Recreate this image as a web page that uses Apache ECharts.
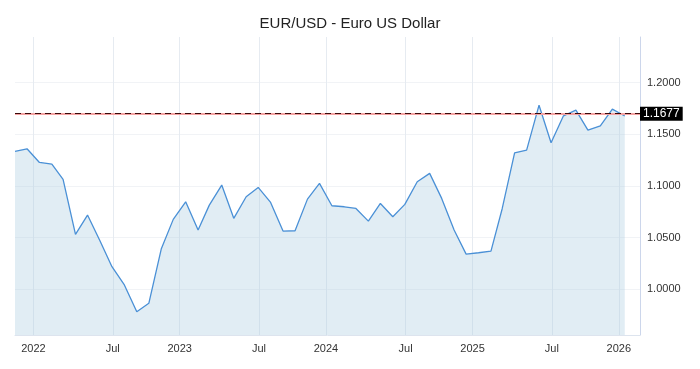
<!DOCTYPE html>
<html>
<head>
<meta charset="utf-8">
<script src="https://cdn.jsdelivr.net/npm/echarts@6/dist/echarts.min.js"></script>
<style>
html,body{margin:0;padding:0;background:#fff;}
#chart{width:700px;height:369px;}
</style>
</head>
<body>
<div id="chart"></div>
<script>
const titleText = 'EUR/USD - Euro US Dollar';
const dates = [
  '2021-11-16','2021-12-16',
  '2022-01-16','2022-02-16','2022-03-16','2022-04-16','2022-05-16','2022-06-16','2022-07-16','2022-08-16','2022-09-16','2022-10-16','2022-11-16','2022-12-16',
  '2023-01-16','2023-02-16','2023-03-16','2023-04-16','2023-05-16','2023-06-16','2023-07-16','2023-08-16','2023-09-16','2023-10-16','2023-11-16','2023-12-16',
  '2024-01-16','2024-02-16','2024-03-16','2024-04-16','2024-05-16','2024-06-16','2024-07-16','2024-08-16','2024-09-16','2024-10-16','2024-11-16','2024-12-16',
  '2025-01-16','2025-02-16','2025-03-16','2025-04-16','2025-05-16','2025-06-16','2025-07-16','2025-08-16','2025-09-16','2025-10-16','2025-11-16','2025-12-16',
  '2026-01-16'
];
const rates = [
  1.1335, 1.1360,
  1.1228, 1.1212, 1.1064, 1.0532, 1.0719, 1.0470, 1.0219, 1.0042, 0.9783, 0.9865, 1.0390, 1.0677,
  1.0847, 1.0574, 1.0815, 1.1009, 1.0687, 1.0896, 1.0986, 1.0841, 1.0564, 1.0567, 1.0873, 1.1025,
  1.0809, 1.0799, 1.0783, 1.0660, 1.0831, 1.0702, 1.0822, 1.1041, 1.1122, 1.0880, 1.0574, 1.0341,
  1.0354, 1.0370, 1.0780, 1.1321, 1.1347, 1.1782, 1.1418, 1.1679, 1.1734, 1.1541, 1.1582, 1.1744,
  1.1677
];
const lastValue = 1.1677;
const tickDates = ['2022-01-01','2022-07-18','2023-01-01','2023-07-18','2024-01-01','2024-07-18','2025-01-01','2025-07-18','2026-01-01'];
const tickLabels = ['2022','Jul','2023','Jul','2024','Jul','2025','Jul','2026'];
const xMin = '2021-11-16';
const xMax = '2026-02-23';
const yMin = 0.9558;
const yMax = 1.2442;

const font = 'Liberation Sans, Arial, sans-serif';
const toTime = s => Date.UTC(+s.slice(0, 4), +s.slice(5, 7) - 1, +s.slice(8, 10));
const tickTimes = tickDates.map(toTime);
const chart = echarts.init(document.getElementById('chart'), null, {renderer: 'canvas'});
chart.setOption({
  animation: false,
  backgroundColor: '#ffffff',
  title: {
    text: titleText,
    left: 'center',
    top: 11,
    textStyle: {fontFamily: font, fontSize: 15, fontWeight: 'normal', color: '#222'}
  },
  grid: {left: 15, right: 60, top: 37, bottom: 34, containLabel: false},
  xAxis: {
    type: 'value',
    min: toTime(xMin),
    max: toTime(xMax),
    axisLine: {show: true, lineStyle: {color: '#dde4ee', width: 1}},
    axisTick: {show: false, customValues: tickTimes},
    axisLabel: {
      fontFamily: font, fontSize: 11, color: '#333', margin: 8,
      customValues: tickTimes,
      formatter: function (v) {
        let best = 0;
        for (let i = 0; i < tickTimes.length; i++) {
          if (Math.abs(tickTimes[i] - v) < Math.abs(tickTimes[best] - v)) best = i;
        }
        return tickLabels[best];
      }
    },
    splitLine: {show: true, lineStyle: {color: '#e6ebf1', width: 1}}
  },
  yAxis: {
    type: 'value',
    position: 'right',
    min: yMin,
    max: yMax,
    splitNumber: 5,
    axisLine: {show: true, lineStyle: {color: '#ccd6eb', width: 1}},
    axisTick: {show: false},
    axisLabel: {
      fontFamily: font, fontSize: 11, color: '#333', margin: 7,
      showMinLabel: false, showMaxLabel: false,
      formatter: function (v) { return v.toFixed(4); }
    },
    splitLine: {show: true, showMinLine: false, showMaxLine: false, lineStyle: {color: '#f1f3f6', width: 1}}
  },
  series: [{
    type: 'line',
    data: dates.map((d, i) => [toTime(d), rates[i]]),
    symbol: 'none',
    lineStyle: {color: '#4a90d6', width: 1.3},
    areaStyle: {color: 'rgba(170,205,225,0.5)'},
    markLine: {
      silent: true,
      symbol: 'none',
      animation: false,
      data: [
        {yAxis: lastValue, lineStyle: {color: '#f4a3a3', width: 2, type: 'solid'}, label: {show: false}},
        {yAxis: lastValue, lineStyle: {color: '#3a0a0a', width: 1, type: [6, 4]},
          label: {
            show: true, position: 'end', distance: 0,
            formatter: lastValue.toFixed(4),
            backgroundColor: '#000', color: '#fff',
            fontFamily: font, fontSize: 12, padding: [1, 3, 1, 3]
          }}
      ]
    }
  }]
});
</script>
</body>
</html>
